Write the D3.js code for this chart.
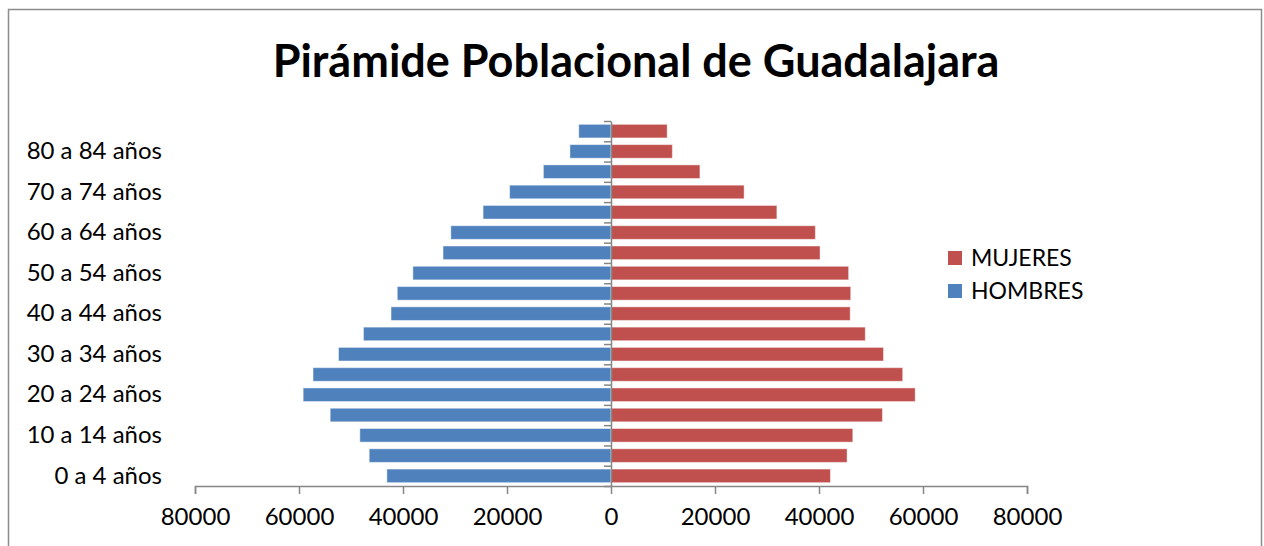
<!DOCTYPE html>
<html>
<head>
<meta charset="utf-8">
<script src="https://cdn.jsdelivr.net/npm/d3@7"></script>
<style>
    body { margin: 0; background: #fff; }
    svg { display: block; font-family: Lato, "Open Sans", sans-serif; }
</style>
</head>
<body>
<div id="chart"></div>
<script>
// age groups, bottom to top
const ageGroups = ["0 a 4 años", "5 a 9 años", "10 a 14 años", "15 a 19 años", "20 a 24 años",
    "25 a 29 años", "30 a 34 años", "35 a 39 años", "40 a 44 años", "45 a 49 años",
    "50 a 54 años", "55 a 59 años", "60 a 64 años", "65 a 69 años", "70 a 74 años",
    "75 a 79 años", "80 a 84 años", "85 años y más"];
const hombres = [43100, 46500, 48300, 54000, 59200, 57300, 52400, 47600, 42300, 41100,
    38100, 32300, 30800, 24600, 19500, 13000, 7900, 6200];
const mujeres = [42200, 45400, 46500, 52200, 58500, 56100, 52400, 48900, 46000, 46100,
    45700, 40200, 39300, 31900, 25600, 17100, 11800, 10800];
const xTicks = [-80000, -60000, -40000, -20000, 0, 20000, 40000, 60000, 80000];
const seriesNames = ["MUJERES", "HOMBRES"];
const seriesColors = ["#C0504D", "#4F81BD"];

let totalWidth = 1264, totalHeight = 546;
let plotLeft = 195, plotRight = 1027, plotTop = 121, plotBottom = 486;
let axisColor = "#868686";
let fontSize = 24;

let svg = d3.select("#chart").append("svg")
        .attr("width", totalWidth)
        .attr("height", totalHeight);

// chart frame
svg.append("rect")
        .attr("x", 8.5)
        .attr("y", 9.5)
        .attr("width", 1253)
        .attr("height", 560)
        .attr("fill", "#fff")
        .attr("stroke", "#8c8c8c")
        .attr("stroke-width", 1.5);

svg.append("text")
        .attr("x", 636)
        .attr("y", 77)
        .attr("text-anchor", "middle")
        .attr("font-size", 45)
        .attr("font-weight", "bold")
        .text("Pirámide Poblacional de Guadalajara");

let xScale = d3.scaleLinear()
        .domain([-80000, 80000])
        .range([plotLeft, plotRight]);
let yScale = d3.scaleBand()
        .domain(ageGroups)
        .range([plotBottom, plotTop])
        .paddingInner(0.33)
        .paddingOuter(0.165);
let yTickScale = d3.scaleLinear()
        .domain([0, ageGroups.length])
        .range([plotBottom, plotTop]);

let g = svg.append("g");

// men to the left, women to the right
g.selectAll(".hombre")
        .data(hombres)
        .enter().append("rect")
        .attr("class", "hombre")
        .attr("x", d => xScale(-d))
        .attr("y", (d, i) => yScale(ageGroups[i]))
        .attr("width", d => xScale(0) - xScale(-d))
        .attr("height", yScale.bandwidth())
        .attr("fill", seriesColors[1])
        .attr("stroke", "rgba(255,255,255,0.45)")
        .attr("stroke-width", 1);

g.selectAll(".mujer")
        .data(mujeres)
        .enter().append("rect")
        .attr("class", "mujer")
        .attr("x", xScale(0))
        .attr("y", (d, i) => yScale(ageGroups[i]))
        .attr("width", d => xScale(d) - xScale(0))
        .attr("height", yScale.bandwidth())
        .attr("fill", seriesColors[0])
        .attr("stroke", "rgba(255,255,255,0.45)")
        .attr("stroke-width", 1);

// vertical axis at zero with ticks between categories
let yAxis = d3.axisLeft(yTickScale)
        .tickValues(d3.range(0, ageGroups.length + 1))
        .tickSize(7)
        .tickSizeOuter(0)
        .tickFormat("");
let axisY = svg.append("g")
        .attr("transform", "translate(" + xScale(0) + ",0)")
        .call(yAxis);
axisY.selectAll("path, line").attr("stroke", axisColor).attr("stroke-width", 1.5);

// category labels, every other one
let labelAxis = d3.axisLeft(yScale)
        .tickValues(ageGroups.filter((d, i) => i % 2 === 0))
        .tickSize(0)
        .tickPadding(0);
let axisLabels = svg.append("g")
        .attr("transform", "translate(162,0)")
        .call(labelAxis);
axisLabels.select(".domain").remove();
axisLabels.selectAll("text")
        .attr("font-family", "Lato, sans-serif")
        .attr("font-size", fontSize)
        .attr("fill", "#000");

let xAxis = d3.axisBottom(xScale)
        .tickValues(xTicks)
        .tickSize(8)
        .tickSizeOuter(8)
        .tickPadding(14)
        .tickFormat(d => Math.abs(d));
let axisX = svg.append("g")
        .attr("transform", "translate(0," + plotBottom + ")")
        .call(xAxis);
axisX.selectAll("path, line").attr("stroke", axisColor).attr("stroke-width", 1.5);
axisX.selectAll("text")
        .attr("font-family", "Lato, sans-serif")
        .attr("font-size", fontSize)
        .attr("fill", "#000");

// legend
let legend = svg.append("g");
seriesNames.forEach(function (name, i) {
    let y = 251 + i * 33;
    legend.append("rect")
            .attr("x", 948)
            .attr("y", y)
            .attr("width", 14)
            .attr("height", 14)
            .attr("fill", seriesColors[i]);
    legend.append("text")
            .attr("x", 971)
            .attr("y", y + 7)
            .attr("dy", "0.35em")
            .attr("font-size", 23)
            .text(name);
});
</script>
</body>
</html>
